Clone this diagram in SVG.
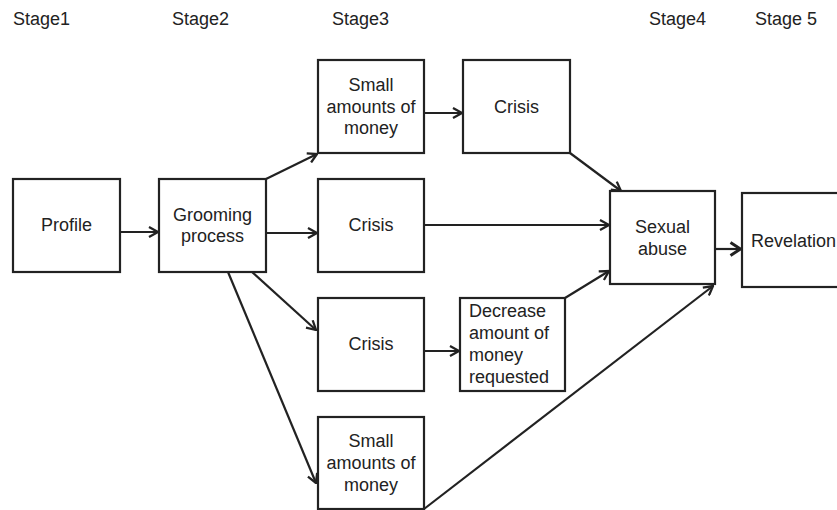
<svg xmlns="http://www.w3.org/2000/svg" width="837" height="510" viewBox="0 0 837 510">
<defs>
<style>
.box{fill:#fff;stroke:#222;stroke-width:2.2}
.t{font-family:"Liberation Sans",Arial,sans-serif;font-size:18px;fill:#222;text-anchor:middle}
.l{text-anchor:start}
.c{fill:none;stroke:#222;stroke-width:2.2}
</style>
<marker id="ah" viewBox="0 0 11 12" refX="10" refY="6" markerWidth="11" markerHeight="12" markerUnits="userSpaceOnUse" orient="auto">
<path d="M1,1 L10,6 L1,11" fill="none" stroke="#222" stroke-width="2.3"/>
</marker>
<marker id="ahb" viewBox="0 0 13 16" refX="12" refY="8" markerWidth="13" markerHeight="16" markerUnits="userSpaceOnUse" orient="auto">
<path d="M1.5,1.5 L11.5,8 L1.5,14.5" fill="none" stroke="#222" stroke-width="3"/>
</marker>
</defs>
<rect width="837" height="510" fill="#fff"/>
<g id="stages">
<text class="t l" x="13" y="25">Stage1</text>
<text class="t l" x="172" y="25">Stage2</text>
<text class="t l" x="332" y="25">Stage3</text>
<text class="t l" x="649" y="25">Stage4</text>
<text class="t l" x="755" y="25">Stage 5</text>
</g>
<g id="connectors">
<line class="c" x1="120" y1="232" x2="158" y2="232" marker-end="url(#ah)"/>
<line class="c" x1="266" y1="179" x2="317" y2="154" marker-end="url(#ah)"/>
<line class="c" x1="266" y1="233" x2="317" y2="233" marker-end="url(#ah)"/>
<line class="c" x1="252" y1="272" x2="316" y2="330" marker-end="url(#ah)"/>
<line class="c" x1="228" y1="272" x2="316" y2="483" marker-end="url(#ah)"/>
<line class="c" x1="424" y1="113" x2="462" y2="113" marker-end="url(#ah)"/>
<line class="c" x1="570" y1="153" x2="621" y2="191" marker-end="url(#ah)"/>
<line class="c" x1="424" y1="225" x2="609" y2="225" marker-end="url(#ah)"/>
<line class="c" x1="424" y1="351" x2="459" y2="351" marker-end="url(#ah)"/>
<line class="c" x1="565" y1="298" x2="609" y2="271" marker-end="url(#ah)"/>
<line class="c" x1="424" y1="509" x2="713" y2="286" marker-end="url(#ah)"/>
<line class="c" x1="716" y1="249" x2="741" y2="249" stroke-width="3.2" marker-end="url(#ahb)"/>
</g>
<g id="profile">
<rect class="box" x="13" y="179" width="107" height="93"/>
<text class="t" x="66.5" y="231">Profile</text>
</g>
<g id="grooming">
<rect class="box" x="159" y="179" width="107" height="93"/>
<text class="t" x="212.5" y="221">Grooming</text>
<text class="t" x="212.5" y="242">process</text>
</g>
<g id="small1">
<rect class="box" x="318" y="60" width="106" height="93"/>
<text class="t" x="371" y="91">Small</text>
<text class="t" x="371" y="113">amounts of</text>
<text class="t" x="371" y="134">money</text>
</g>
<g id="crisis1">
<rect class="box" x="463" y="60" width="107" height="93"/>
<text class="t" x="516.5" y="113">Crisis</text>
</g>
<g id="crisis2">
<rect class="box" x="318" y="179" width="106" height="93"/>
<text class="t" x="371" y="231">Crisis</text>
</g>
<g id="crisis3">
<rect class="box" x="318" y="298" width="106" height="93"/>
<text class="t" x="371" y="350">Crisis</text>
</g>
<g id="decrease">
<rect class="box" x="460" y="298" width="105" height="93"/>
<text class="t l" x="469" y="317">Decrease</text>
<text class="t l" x="469" y="339">amount of</text>
<text class="t l" x="469" y="361">money</text>
<text class="t l" x="469" y="383">requested</text>
</g>
<g id="small2">
<rect class="box" x="318" y="417" width="106" height="92"/>
<text class="t" x="371" y="447">Small</text>
<text class="t" x="371" y="469">amounts of</text>
<text class="t" x="371" y="491">money</text>
</g>
<g id="sexual">
<rect class="box" x="610" y="191" width="105" height="93"/>
<text class="t" x="662.5" y="233">Sexual</text>
<text class="t" x="662.5" y="255">abuse</text>
</g>
<g id="revelation">
<rect class="box" x="742" y="193" width="110" height="94"/>
<text class="t l" x="751" y="247">Revelation</text>
</g>
</svg>
